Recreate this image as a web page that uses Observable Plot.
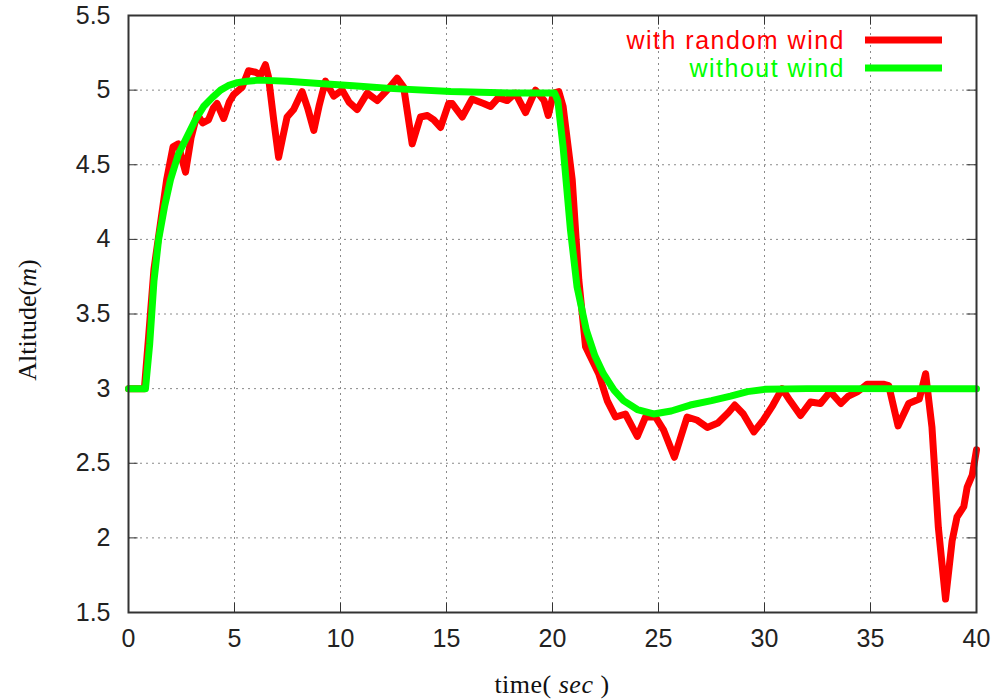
<!DOCTYPE html>
<html>
<head>
<meta charset="utf-8">
<script src="https://cdn.jsdelivr.net/npm/d3@7"></script>
<script src="https://cdn.jsdelivr.net/npm/@observablehq/plot@0.6"></script>
<style>
  html, body { margin: 0; padding: 0; background: #fff; }
  #chart { width: 1005px; height: 700px; }
</style>
</head>
<body>
<div id="chart"></div>
<script>
// ---- data ----
const xTicks = [0, 5, 10, 15, 20, 25, 30, 35, 40];
const yTicks = [1.5, 2, 2.5, 3, 3.5, 4, 4.5, 5, 5.5];

const seriesNames = ["with random wind", "without wind"];
const seriesColors = ["#ff0000", "#00ff00"];

const windTime = [0, 0.75, 0.95, 1.2, 1.5, 1.8, 2.1, 2.35, 2.5, 2.69, 2.95, 3.24, 3.5, 3.77, 4.0, 4.18, 4.49, 4.75, 4.96, 5.36, 5.66, 6.0, 6.23, 6.46, 6.6, 6.85, 7.08, 7.3, 7.48, 7.79, 8.19, 8.45, 8.74, 9.0, 9.29, 9.68, 10.08, 10.4, 10.79, 11.26, 11.73, 12.2, 12.67, 12.98, 13.38, 13.77, 14.1, 14.4, 14.72, 15.1, 15.27, 15.74, 16.2, 16.75, 17.08, 17.45, 17.86, 18.25, 18.73, 19.2, 19.6, 19.8, 20.05, 20.3, 20.5, 20.93, 21.24, 21.56, 21.8, 22.18, 22.58, 22.97, 23.44, 24.0, 24.39, 24.86, 25.25, 25.75, 26.35, 26.8, 27.3, 27.8, 28.3, 28.6, 29.0, 29.5, 29.95, 30.4, 30.83, 31.2, 31.7, 32.17, 32.64, 33.1, 33.6, 33.96, 34.4, 34.84, 35.24, 35.6, 35.86, 36.3, 36.8, 37.3, 37.6, 37.9, 38.2, 38.54, 38.85, 39.08, 39.4, 39.56, 39.8, 40.0];
const windAlt = [3.0, 3.0, 3.35, 3.8, 4.1, 4.4, 4.62, 4.64, 4.55, 4.45, 4.68, 4.84, 4.78, 4.80, 4.88, 4.91, 4.81, 4.92, 4.97, 5.02, 5.13, 5.12, 5.10, 5.17, 5.09, 4.8, 4.55, 4.7, 4.82, 4.87, 4.99, 4.88, 4.73, 4.9, 5.06, 4.96, 5.0, 4.92, 4.87, 4.98, 4.93, 5.0, 5.08, 5.02, 4.64, 4.82, 4.83, 4.80, 4.75, 4.91, 4.91, 4.82, 4.94, 4.91, 4.89, 4.95, 4.93, 4.98, 4.85, 5.0, 4.93, 4.83, 4.98, 4.99, 4.89, 4.40, 3.73, 3.28, 3.21, 3.10, 2.92, 2.81, 2.83, 2.68, 2.81, 2.81, 2.72, 2.54, 2.81, 2.79, 2.74, 2.77, 2.84, 2.89, 2.83, 2.71, 2.79, 2.89, 3.0, 2.92, 2.82, 2.91, 2.90, 2.98, 2.90, 2.95, 2.98, 3.03, 3.03, 3.03, 3.02, 2.75, 2.90, 2.93, 3.10, 2.74, 2.07, 1.59, 1.98, 2.14, 2.21, 2.34, 2.42, 2.59];

const calmTime = [0, 0.8, 1.0, 1.2, 1.42, 1.7, 1.98, 2.35, 2.77, 3.15, 3.54, 3.95, 4.34, 4.7, 5.13, 5.6, 6.2, 7.5, 9, 10.6, 12.5, 15.2, 18, 20.1, 20.25, 20.5, 20.85, 21.16, 21.6, 22.0, 22.4, 22.9, 23.35, 24.0, 24.77, 25.6, 26.5, 27.5, 28.4, 29.2, 30.0, 32, 40];
const calmAlt = [3.0, 3.0, 3.3, 3.72, 4.0, 4.22, 4.40, 4.57, 4.69, 4.80, 4.89, 4.95, 5.0, 5.03, 5.05, 5.06, 5.067, 5.06, 5.045, 5.03, 5.01, 4.99, 4.98, 4.98, 4.93, 4.62, 4.06, 3.68, 3.39, 3.22, 3.10, 2.99, 2.92, 2.86, 2.83, 2.85, 2.89, 2.92, 2.95, 2.98, 2.995, 3.0, 3.0];

// ---- build tables ----
const wind = windTime.map((t, i) => ({t, y: windAlt[i]}));
const calm = calmTime.map((t, i) => ({t, y: calmAlt[i]}));

const xDom = [0, 40], yDom = [1.5, 5.5];
const tickLenX = 0.45;   // inward tick length in x units
const tickLenY = 0.065;  // inward tick length in y units

const plot = Plot.plot({
  width: 1005,
  height: 700,
  marginLeft: 128,
  marginRight: 29,
  marginTop: 15,
  marginBottom: 88,
  style: {fontFamily: "'Liberation Sans', Arial, sans-serif", background: "#fff", color: "#222"},
  x: {domain: xDom},
  y: {domain: yDom},
  marks: [
    Plot.ruleX(xTicks.slice(1, -1), {x: d => d, stroke: "#8a8a8a", strokeWidth: 1, strokeDasharray: "2,4"}),
    Plot.ruleY(yTicks.slice(1, -1), {y: d => d, stroke: "#8a8a8a", strokeWidth: 1, strokeDasharray: "2,4"}),
    // inward ticks (mirrored on all four sides)
    Plot.ruleY(yTicks, {y: d => d, x1: xDom[0], x2: xDom[0] + tickLenX, stroke: "#333"}),
    Plot.ruleY(yTicks, {y: d => d, x1: xDom[1] - tickLenX, x2: xDom[1], stroke: "#333"}),
    Plot.ruleX(xTicks, {x: d => d, y1: yDom[0], y2: yDom[0] + tickLenY, stroke: "#333"}),
    Plot.ruleX(xTicks, {x: d => d, y1: yDom[1] - tickLenY, y2: yDom[1], stroke: "#333"}),
    Plot.axisX({ticks: xTicks, tickSize: 0, tickPadding: 17, fontSize: 25, label: null, tickFormat: d3.format("")}),
    Plot.axisY({ticks: yTicks, tickSize: 0, tickPadding: 18, fontSize: 25, label: null, tickFormat: d3.format("")}),
    Plot.line(wind, {x: "t", y: "y", stroke: seriesColors[0], strokeWidth: 7, curve: "linear"}),
    Plot.line(calm, {x: "t", y: "y", stroke: seriesColors[1], strokeWidth: 7, curve: "linear"}),
    Plot.frame({stroke: "#333", strokeWidth: 2})
  ]
});

const svg = d3.select(plot);

// axis titles (serif, with italic unit)
const yt = svg.append("text")
  .attr("transform", "translate(36,320) rotate(-90)")
  .attr("text-anchor", "middle")
  .attr("font-family", "'Liberation Serif', 'Times New Roman', serif")
  .attr("font-size", 26)
  .attr("fill", "#111");
yt.append("tspan").text("Altitude(");
yt.append("tspan").attr("font-style", "italic").text("m");
yt.append("tspan").text(")");

const xt = svg.append("text")
  .attr("x", 552).attr("y", 693)
  .attr("text-anchor", "middle")
  .attr("font-family", "'Liberation Serif', 'Times New Roman', serif")
  .attr("font-size", 26)
  .attr("letter-spacing", 0.5)
  .attr("fill", "#111");
xt.append("tspan").text("time( ");
xt.append("tspan").attr("font-style", "italic").text("sec");
xt.append("tspan").text(" )");

// legend inside plot, top-right
const lg = svg.append("g");
seriesNames.forEach((name, i) => {
  const cy = 40 + i * 28;
  lg.append("text")
    .attr("x", 845).attr("y", cy + 9)
    .attr("text-anchor", "end")
    .attr("font-family", "'Liberation Sans', Arial, sans-serif")
    .attr("font-size", 25)
    .attr("letter-spacing", 1.5)
    .attr("fill", seriesColors[i])
    .text(name);
  lg.append("line")
    .attr("x1", 865).attr("x2", 942)
    .attr("y1", cy).attr("y2", cy)
    .attr("stroke", seriesColors[i])
    .attr("stroke-width", 7);
});

document.getElementById("chart").appendChild(plot);
</script>
</body>
</html>
